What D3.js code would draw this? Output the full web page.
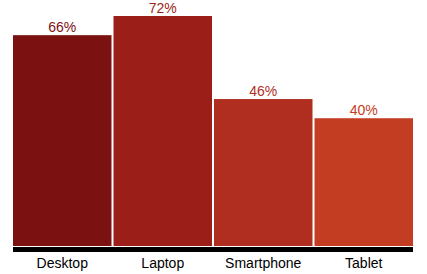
<!DOCTYPE html>
<html>
<head>
<meta charset="utf-8">
<script src="https://cdn.jsdelivr.net/npm/d3@7"></script>
<style>
	body { margin:0; background:#fff; }
	svg { display:block; font-family:Arial, "Liberation Sans", sans-serif; }
</style>
</head>
<body>
<svg id="chart-1" width="427" height="274"></svg>
<script>
// Share of users per device
const categories = ['Desktop', 'Laptop', 'Smartphone', 'Tablet'];
const values = [66, 72, 46, 40];
const colors = ['#7b1111', '#9b1f18', '#b02e1f', '#c33d22'];

const width = 427;
const height = 274;
const margin = {top:16, right:14, bottom:28, left:13};
const innerWidth = width - margin.left - margin.right;
const innerHeight = height - margin.top - margin.bottom;

const svg = d3.select('svg#chart-1');
const g = svg.append('g')
	.attr('transform', `translate(${margin.left},${margin.top})`);

const x = d3.scaleBand()
	.domain(categories)
	.range([0, innerWidth])
	.paddingInner(0.02);

const y = d3.scaleLinear()
	.domain([0, d3.max(values)])
	.range([innerHeight, 0]);

g.selectAll('rect.bar').data(categories)
	.enter().append('rect')
		.attr('class','bar')
		.attr('x', d => x(d))
		.attr('y', (d,i) => y(values[i]))
		.attr('width', x.bandwidth())
		.attr('height', (d,i) => innerHeight - y(values[i]))
		.attr('fill', (d,i) => colors[i]);

g.selectAll('text.value').data(categories)
	.enter().append('text')
		.attr('class','value')
		.attr('x', d => x(d) + x.bandwidth()/2)
		.attr('y', (d,i) => y(values[i]) - 3)
		.attr('text-anchor','middle')
		.attr('font-size','14px')
		.attr('fill', (d,i) => colors[i])
		.text((d,i) => values[i] + '%');

// thick black baseline + category labels
const xAxis = g.append('g')
	.attr('transform', `translate(0,${innerHeight})`)
	.call(d3.axisBottom(x).tickSize(0).tickPadding(12));
xAxis.select('.domain').remove();
xAxis.selectAll('text')
	.attr('font-size','14px')
	.attr('fill','#000')
	.attr('font-family','Arial, "Liberation Sans", sans-serif');

g.append('rect')
	.attr('x', 0)
	.attr('y', innerHeight + 1)
	.attr('width', innerWidth)
	.attr('height', 5)
	.attr('fill', '#000');
</script>
</body>
</html>
